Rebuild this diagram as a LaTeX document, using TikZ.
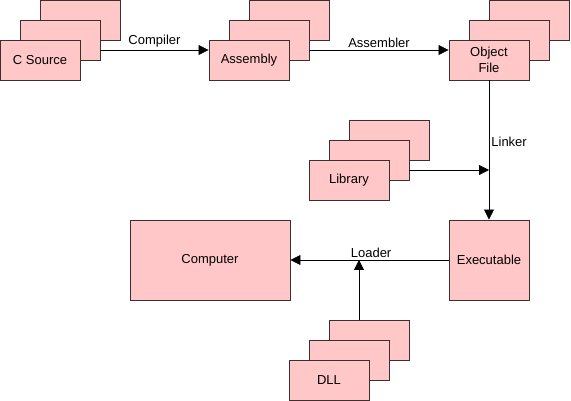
\documentclass[tikz,border=0pt]{standalone}
\usepackage{fontspec}
\setmainfont{Liberation Sans}
\usetikzlibrary{arrows.meta,positioning}
\definecolor{cBox}{HTML}{FFC7C7}
\definecolor{cEdge}{HTML}{3A3030}
\definecolor{cInk}{HTML}{000000}

\begin{document}
\begin{tikzpicture}[
  x=1pt, y=-1pt,
  font=\fontsize{13}{15}\selectfont,
  card/.style={draw=cEdge, fill=cBox, line width=.9pt, minimum width=80pt,
               minimum height=40pt, inner sep=0pt, align=center, text=cInk},
  flow/.style={-{Triangle[length=10pt,width=10pt]}, line width=.8pt, draw=cInk},
  lbl/.style={text=cInk, inner sep=1pt},
]
\useasboundingbox (0,0) rectangle (571,401);

% ---------------- C source stack ----------------
\node[card] (csrcB) at (80,20) {};
\node[card] (csrcM) at (60,40) {};
\node[card] (csrc)  at (40,60) {C Source};

% ---------------- assembly stack ----------------
\node[card] (asmB) at (289,20) {};
\node[card] (asmM) at (269,40) {};
\node[card] (asm)  at (249,60) {Assembly};

% ---------------- object file stack ----------------
\node[card] (objB) at (529,20) {};
\node[card] (objM) at (509,40) {};
\node[card] (obj)  at (489,60) {Object\\[1pt]File};

% ---------------- library stack ----------------
\node[card] (libB) at (389,140) {};
\node[card] (libM) at (369,160) {};
\node[card] (lib)  at (349,180) {Library};

% ---------------- executable / computer ----------------
\node[card, minimum height=80pt] (exe) at (489,260) {Executable};
\node[card, minimum width=160pt, minimum height=80pt] (comp) at (210,260) {Computer};

% ---------------- DLL stack ----------------
\node[card] (dllB) at (369,340) {};
\node[card] (dllM) at (349,360) {};
\node[card] (dll)  at (329,380) {DLL};

% ---------------- connectors ----------------
\draw[flow] ([yshift=-10pt]csrcM.east) -- ([yshift=10pt]asm.west)
  node[lbl, midway, above=1pt] {Compiler};
\draw[flow] ([yshift=-10pt]asmM.east) -- ([yshift=10pt]obj.west)
  node[lbl, midway, above=1pt] {Assembler};
\draw[flow] (obj.south) -- (exe.north)
  node[lbl, pos=0.44, right=1pt] {Linker};
\coordinate (libOut) at ([yshift=-10pt]libM.east);
\coordinate (join) at (libOut -| obj.south);
\draw[flow] (libOut) -- (join);
\draw[flow] (exe.west) -- (comp.east)
  node[lbl, pos=0.49, above=1pt] {Loader};
\coordinate (dllOut) at ([xshift=-10pt]dllB.north);
\coordinate (tap) at (dllOut |- exe.west);
\draw[flow] (dllOut) -- (tap);

\end{tikzpicture}
\end{document}
